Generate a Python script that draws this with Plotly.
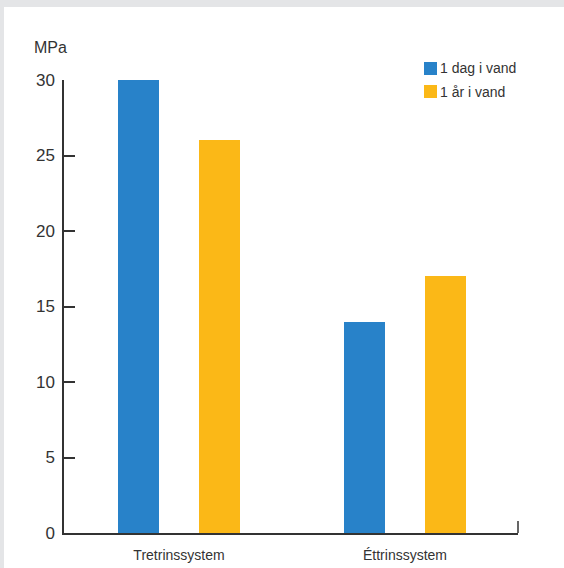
import plotly.graph_objects as go

categories = ["Tretrinssystem", "Éttrinssystem"]
series_names = ["1 dag i vand", "1 år i vand"]
values_dag = [30, 14]
values_aar = [26, 17]
y_ticks = [0, 5, 10, 15, 20, 25, 30]
unit_label = "MPa"

colors = ["#2882c9", "#fbb817"]
text_color = "#333333"
font_family = "Liberation Sans, Arial, Helvetica, sans-serif"

W, H = 564, 568
ML, MR, MT, MB = 64, 46, 80, 35
PW, PH = W - ML - MR, H - MT - MB


def px_x(p):
    return (p - ML) / PW


def px_y(p):
    return (H - MB - p) / PH


x_idx = list(range(len(categories)))
bar_w = 41 / 226
off = 40.5 / 226

fig = go.Figure()
for name, vals, col, sign in [(series_names[0], values_dag, colors[0], -1),
                              (series_names[1], values_aar, colors[1], 1)]:
    fig.add_trace(go.Bar(
        x=[i + sign * off for i in x_idx], y=vals, name=name,
        width=bar_w, marker=dict(color=col, line=dict(width=0)),
        showlegend=False,
    ))

shapes = [
    # grey frame
    dict(type="rect", xref="paper", yref="paper", x0=px_x(-10), x1=px_x(W + 10),
         y0=px_y(7), y1=px_y(-10), fillcolor="#e4e5e7", line=dict(width=0), layer="below"),
    dict(type="rect", xref="paper", yref="paper", x0=px_x(-10), x1=px_x(4),
         y0=px_y(H + 10), y1=px_y(-10), fillcolor="#e4e5e7", line=dict(width=0), layer="below"),
    # end tick of x axis
    dict(type="line", xref="paper", yref="paper", x0=1, x1=1, y0=0, y1=12 / PH,
         line=dict(color=text_color, width=1.5)),
]
annotations = [
    dict(text=unit_label, xref="paper", yref="paper", x=px_x(32), y=px_y(47),
         xanchor="left", yanchor="middle", showarrow=False,
         font=dict(size=16, color=text_color, family=font_family)),
]
# legend
leg_rows = [68.5, 91.5]
for name, col, yc in zip(series_names, colors, leg_rows):
    shapes.append(dict(type="rect", xref="paper", yref="paper",
                       x0=px_x(424), x1=px_x(437), y0=px_y(yc + 6.5), y1=px_y(yc - 6.5),
                       fillcolor=col, line=dict(width=0)))
    annotations.append(dict(text=name, xref="paper", yref="paper", x=px_x(438), y=px_y(yc),
                            xanchor="left", yanchor="middle", showarrow=False,
                            font=dict(size=14, color=text_color, family=font_family)))

fig.update_layout(
    width=W, height=H,
    margin=dict(l=ML, r=MR, t=MT, b=MB, pad=0, autoexpand=False),
    paper_bgcolor="white", plot_bgcolor="white",
    font=dict(family=font_family, color=text_color),
    bargap=0,
    shapes=shapes, annotations=annotations,
    xaxis=dict(range=[-115 / 226, 1 + 113 / 226], tickvals=x_idx, ticktext=categories,
               showgrid=False, zeroline=False, showline=True, linecolor=text_color,
               linewidth=1.5, ticks="", tickfont=dict(size=14, color=text_color),
               ticklabelstandoff=8, automargin=False, fixedrange=True),
    yaxis=dict(range=[0, 30], tickvals=y_ticks, showgrid=False, zeroline=False,
               showline=True, linecolor=text_color, linewidth=1.5,
               ticks="inside", ticklen=11, tickwidth=1.5, tickcolor=text_color,
               tickfont=dict(size=17, color=text_color), ticklabelstandoff=4,
               automargin=False, fixedrange=True),
)

fig.write_html(
    "out.html",
    config={"displayModeBar": False},
    post_script="document.body.style.margin='0';document.body.style.overflow='hidden';",
)
